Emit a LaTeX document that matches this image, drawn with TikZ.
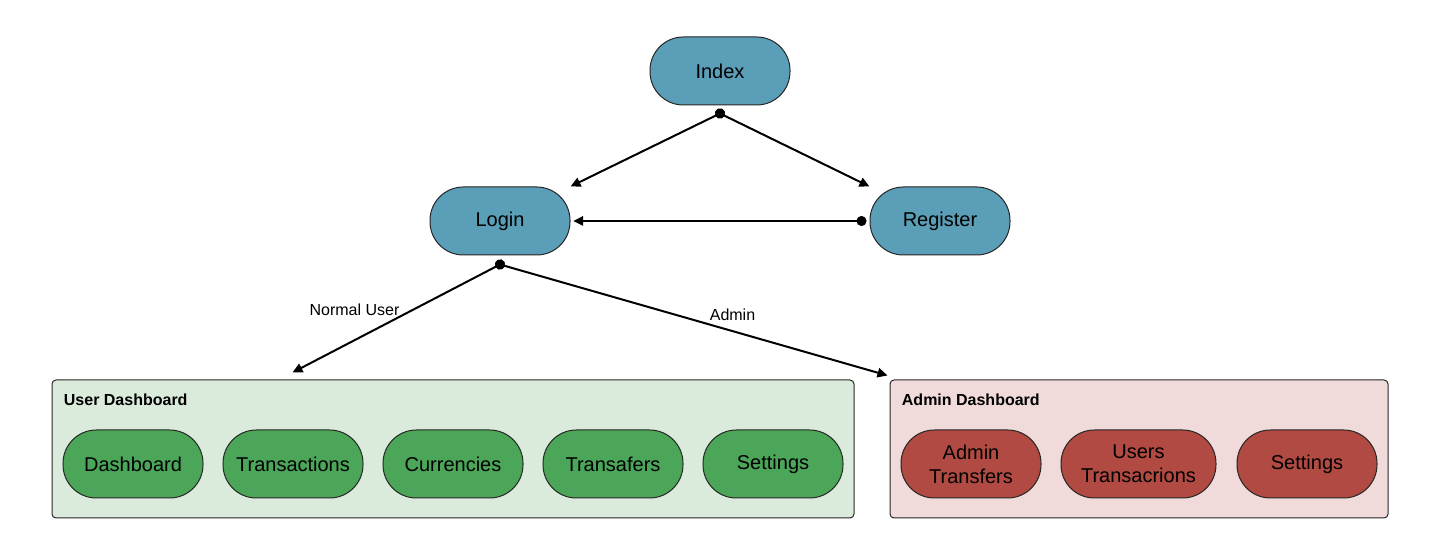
\documentclass[tikz,border=0pt]{standalone}
\usepackage{fontspec}
\setmainfont{Liberation Sans}
\usetikzlibrary{arrows.meta}
\definecolor{pageblue}{RGB}{90,158,183}
\definecolor{usergreen}{RGB}{75,166,90}
\definecolor{adminred}{RGB}{176,74,66}
\definecolor{userbg}{RGB}{218,235,220}
\definecolor{adminbg}{RGB}{240,218,218}
\begin{document}
\begin{tikzpicture}[x=0.75pt,y=-0.75pt,
   page/.style={draw=black!85, line width=0.75pt, rounded corners=25pt,
      minimum width=105pt, minimum height=51pt, inner sep=0pt, align=center,
      font=\fontsize{15}{18}\selectfont},
   panel/.style={draw=black!85, line width=0.75pt, rounded corners=3pt,
      minimum height=103.5pt, inner sep=0pt},
   paneltitle/.style={anchor=west, inner sep=2pt, font=\fontsize{12}{14}\selectfont\bfseries},
   link/.style={line width=1.5pt, shorten <=-3.75pt,
      {Circle[length=7.5pt]}-{Triangle[length=7.5pt,width=7pt]}},
   lbl/.style={font=\fontsize{12}{14}\selectfont}]
   \useasboundingbox (0,0) rectangle (1440,555);
   % dashboards
   \node[panel, fill=userbg, minimum width=601.5pt] (udash) at (453,449) {};
   \node[panel, fill=adminbg, minimum width=373.5pt] (adash) at (1139,449) {};
   \node[paneltitle] (utitle) at (61,400) {User Dashboard};
   \node[paneltitle] (atitle) at (899,400) {Admin Dashboard};
   % pages
   \node[page, fill=pageblue] (index) at (720,71) {Index};
   \node[page, fill=pageblue] (login) at (500,221) {Login};
   \node[page, fill=pageblue] (register) at (940,221) {Register};
   \node[page, fill=usergreen] (dashboard) at (133,464) {Dashboard};
   \node[page, fill=usergreen] (transactions) at (293,464) {Transactions};
   \node[page, fill=usergreen] (currencies) at (453,464) {Currencies};
   \node[page, fill=usergreen] (transfers) at (613,464) {Transafers};
   \node[page, fill=usergreen] (usettings) at (773,464) {Settings};
   \node[page, fill=adminred] (atransfers) at (971,464) {Admin\\Transfers};
   \node[page, fill=adminred, minimum width=116.25pt] (utrans) at (1138.5,464) {Users\\Transacrions};
   \node[page, fill=adminred] (asettings) at (1307,464) {Settings};
   % links
   \draw[link] ([yshift=-6pt]index.south) -- (login.north east);
   \draw[link] ([yshift=-6pt]index.south) -- (register.north west);
   \draw[link] ([xshift=-6pt]register.west) -- ([xshift=2pt]login.east);
   \draw[link] ([yshift=-6.75pt]login.south) -- ([xshift=180.75pt,yshift=5.25pt]udash.north west)
      node[pos=0.42, left=6pt, lbl] {Normal User};
   \draw[link] ([yshift=-6.75pt]login.south) -- ([xshift=-1.5pt,yshift=3pt]adash.north west)
      node[pos=0.6, above=4pt, lbl] {Admin};
\end{tikzpicture}
\end{document}
